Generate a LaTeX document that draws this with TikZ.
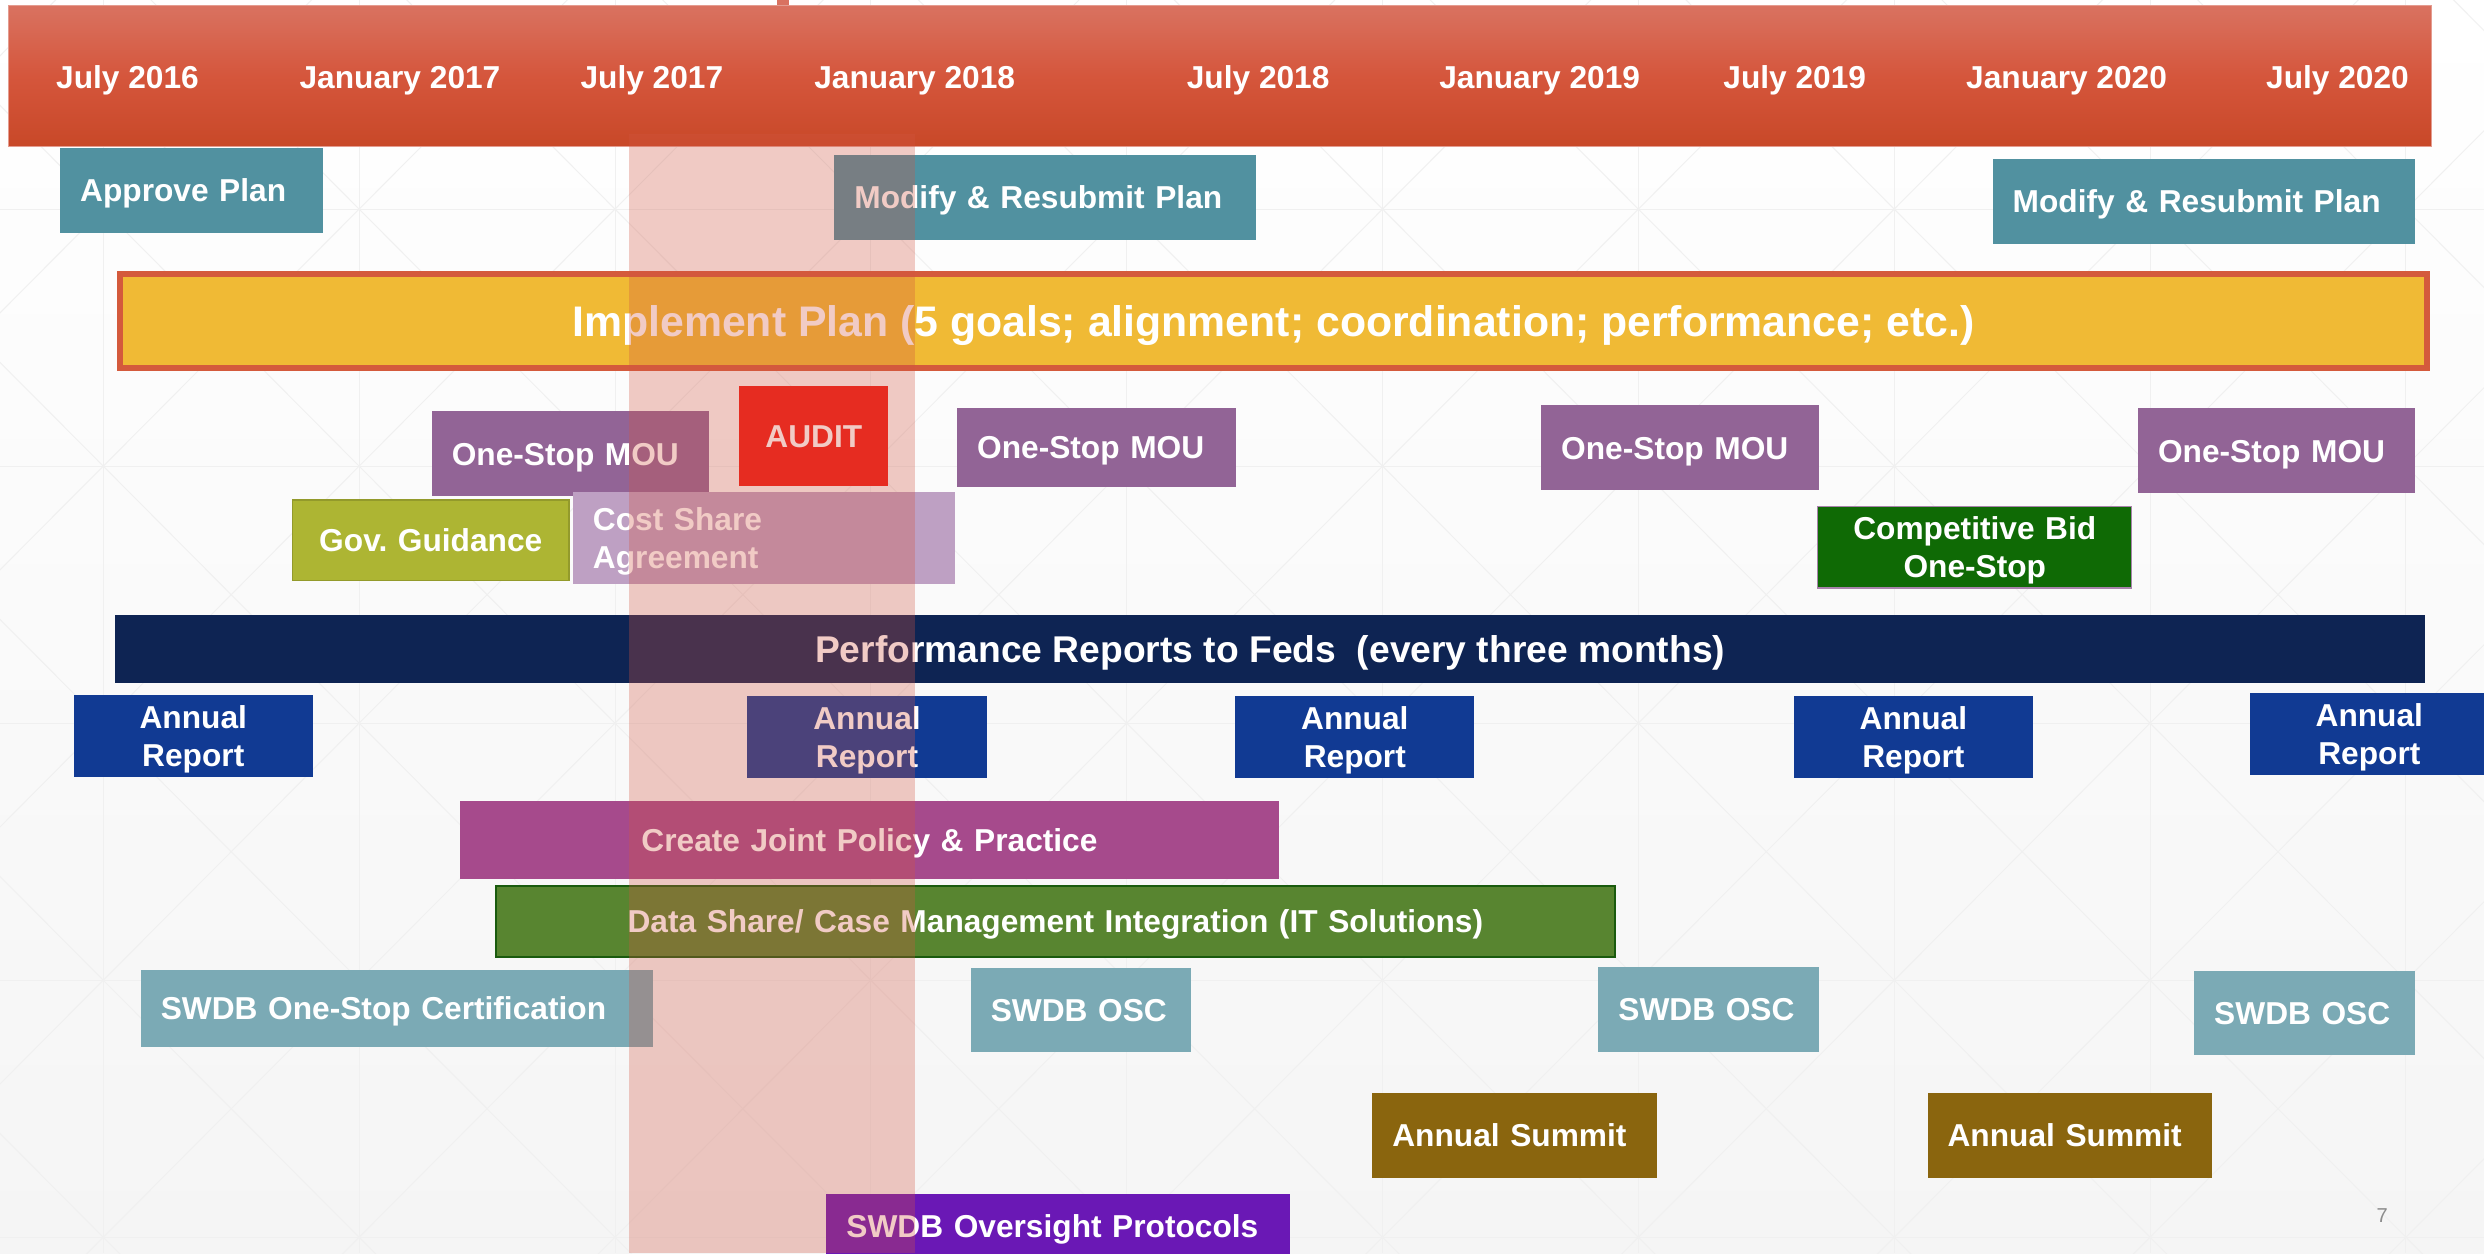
\documentclass[tikz,border=0pt]{standalone}
\usepackage{fontspec}
\setmainfont{Liberation Sans}
\frenchspacing
\definecolor{entetehaut}{RGB}{217,114,96}
\definecolor{entetemil}{RGB}{213,86,60}
\definecolor{entetebas}{RGB}{200,72,40}
\definecolor{sarcelle}{RGB}{81,145,160}
\definecolor{sarcelleclair}{RGB}{123,170,181}
\definecolor{jaune}{RGB}{240,186,53}
\definecolor{bordure}{RGB}{212,90,60}
\definecolor{violetmou}{RGB}{146,100,150}
\definecolor{rougeaudit}{RGB}{239,27,20}
\definecolor{olive}{RGB}{173,181,51}
\definecolor{mauve}{RGB}{190,160,195}
\definecolor{vertbid}{RGB}{15,106,5}
\definecolor{marine}{RGB}{14,36,83}
\definecolor{bleurapport}{RGB}{17,58,147}
\definecolor{magenta}{RGB}{166,74,140}
\definecolor{vertdata}{RGB}{88,133,48}
\definecolor{brun}{RGB}{138,101,14}
\definecolor{pourpre}{RGB}{106,24,181}
\definecolor{bande}{RGB}{210,85,65}
\definecolor{fond}{RGB}{245,245,245}
\tikzset{
  tache/.style n args={3}{anchor=north west, inner sep=0pt, fill=#1,
    minimum width=#2pt, minimum height=#3pt, text width=#2pt-25.4pt,
    align=left, text=white, font=\bfseries\fontsize{20}{24}\selectfont,
    text height=14.3pt, text depth=0pt},
  centre/.style={align=center},
  deux/.style={text depth=24pt},
  date/.style={inner sep=0pt, text=white, font=\bfseries\fontsize{20}{24}\selectfont,
    text height=14.3pt, text depth=0pt},
  grille/.style={gray!12, line width=0.6pt},
}
\begin{document}
\begin{tikzpicture}[x=1pt,y=-1pt]
\useasboundingbox (0,0) rectangle (1568,791);
\clip (0,0) rectangle (1568,791);
%					Fond et grille :
\shade[top color=white, bottom color=fond] (0,0) rectangle (1568,791);
\foreach \i in {0,...,9} {\pgfmathsetmacro\gx{65.2+161.5*\i} \draw[grille] (\gx,0) -- (\gx,791);}
\foreach \j in {0,...,4} {\pgfmathsetmacro\gy{132+162.25*\j} \draw[grille] (0,\gy) -- (1568,\gy);}
\foreach \i in {-1,...,9} \foreach \j in {-1,...,4} {
  \pgfmathsetmacro\xa{65.2+161.5*\i} \pgfmathsetmacro\xb{\xa+161.5}
  \pgfmathsetmacro\ya{132+162.25*\j} \pgfmathsetmacro\yb{\ya+162.25}
  \draw[grille] (\xa,\ya) -- (\xb,\yb) (\xb,\ya) -- (\xa,\yb);
}
%					Bandeau des dates :
\fill[entetehaut] (490.4,0) rectangle (498.3,6.3);
\node[anchor=north west, inner sep=0pt, minimum width=1529.5pt, minimum height=89pt,
  top color=entetehaut, bottom color=entetebas, middle color=entetemil,
  draw=entetehaut!70!white, line width=0.8pt] (entete) at (5,3.2) {};
\foreach \x/\d [count=\i] in {80.5/July 2016, 252.5/January 2017, 411.5/July 2017,
  577.4/January 2018, 794.2/July 2018, 971.9/January 2019, 1132.9/July 2019,
  1304.5/January 2020, 1475.5/July 2020}
  \node[date] (date\i) at (\x,48.6) {\d};
%					Plan :
\node[tache={sarcelle}{166.1}{53.7}] (approve) at (37.7,93.2) {Approve Plan};
\node[tache={sarcelle}{266.5}{54.1}] (modify1) at (526.4,97.4) {Modify \& Resubmit Plan};
\node[tache={sarcelle}{266.6}{53.8}] (modify2) at (1257.6,100) {Modify \& Resubmit Plan};
\node[anchor=north west, inner sep=0pt, minimum width=1456.3pt, minimum height=59.4pt,
  fill=jaune, draw=bordure, line width=3.7pt, text=white,
  font=\bfseries\fontsize{27}{32}\selectfont, text height=19.3pt, text depth=0pt]
  (implement) at (73.85,171.25) {Implement Plan (5 goals; alignment; coordination; performance; etc.)};
%					MOU, audit, accords :
\node[tache={violetmou}{175.1}{53.6}] (mou1) at (272.3,259.5) {One-Stop MOU};
\node[tache={rougeaudit}{94.1}{62.9}, centre] (audit) at (466.5,243.7) {AUDIT};
\node[tache={violetmou}{176.2}{50}] (mou2) at (603.9,257.2) {One-Stop MOU};
\node[tache={violetmou}{175.3}{53.4}] (mou3) at (972.6,255.7) {One-Stop MOU};
\node[tache={violetmou}{174.8}{53.6}] (mou4) at (1349.3,257.6) {One-Stop MOU};
\node[tache={olive}{174.6}{51}, centre, draw=olive!85!black, line width=0.8pt] (govguide) at (184.2,315.2) {Gov. Guidance};
\node[tache={mauve}{241}{57.9}, deux] (costshare) at (361.4,310.4) {Cost Share\\Agreement};
\node[tache={vertbid}{198.3}{51.4}, centre, deux, draw=violetmou!80!white, line width=0.8pt] (compbid) at (1147,319.4) {Competitive Bid\\One-Stop};
%					Rapports :
\node[anchor=north west, inner sep=0pt, minimum width=1458.1pt, minimum height=43pt,
  fill=marine, text=white, font=\bfseries\fontsize{23.5}{28}\selectfont,
  text height=16.8pt, text depth=0pt] (perfreports) at (72.5,387.8)
  {Performance Reports to Feds \ (every three months)};
\node[tache={bleurapport}{151}{51.5}, centre, deux] (annual1) at (46.3,438.8) {Annual\\Report};
\node[tache={bleurapport}{151}{51.5}, centre, deux] (annual2) at (471.6,439.2) {Annual\\Report};
\node[tache={bleurapport}{151}{51.5}, centre, deux] (annual3) at (779.5,439.2) {Annual\\Report};
\node[tache={bleurapport}{151.2}{51.6}, centre, deux] (annual4) at (1132,439.4) {Annual\\Report};
\node[tache={bleurapport}{151}{51.5}, centre, deux] (annual5) at (1419.9,437.3) {Annual\\Report};
%					Politiques et outils :
\node[tache={magenta}{517.5}{49}, centre] (jointpolicy) at (289.9,505.5) {Create Joint Policy \& Practice};
\node[tache={vertdata}{706.2}{44.4}, centre, draw=vertdata!60!green!50!black, line width=1.2pt] (datashare) at (312.5,558.9) {Data Share/ Case Management Integration (IT Solutions)};
%					SWDB :
\node[tache={sarcelleclair}{323.1}{49}] (cert) at (88.6,612) {SWDB One-Stop Certification};
\node[tache={sarcelleclair}{139.4}{53.3}] (osc1) at (612.5,610.7) {SWDB OSC};
\node[tache={sarcelleclair}{139.2}{53.2}] (osc2) at (1008.7,610.5) {SWDB OSC};
\node[tache={sarcelleclair}{139.3}{53.2}] (osc3) at (1384.8,612.6) {SWDB OSC};
\node[tache={brun}{179.8}{53.6}] (summit1) at (866,689.6) {Annual Summit};
\node[tache={brun}{179.3}{53.8}] (summit2) at (1216.5,689.6) {Annual Summit};
\node[tache={pourpre}{292.5}{40.4}] (oversight) at (521.4,753.4) {SWDB Oversight Protocols};
%					Numéro de page :
\node[inner sep=0pt, text=gray!90, font=\fontsize{12.7}{15}\selectfont, text height=9.1pt, text depth=0pt] (pagenum) at (1503.8,767.3) {7};
%					Bande de la période courante :
\fill[bande, opacity=0.3] (397.1,84.8) rectangle (577.3,791);
\end{tikzpicture}
\end{document}
